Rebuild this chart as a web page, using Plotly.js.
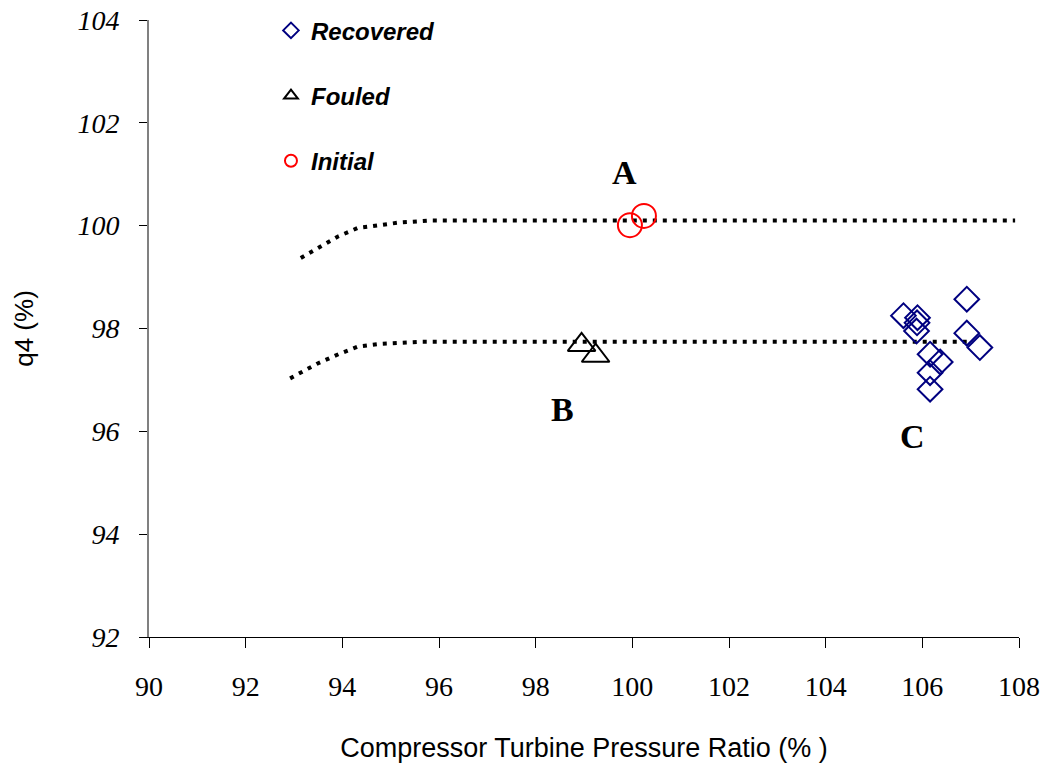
<!DOCTYPE html>
<html>
<head>
<meta charset="utf-8">
<script src="https://cdn.plot.ly/plotly-3.0.1.min.js"></script>
<style>html,body{margin:0;padding:0;background:#fff;}#chart{width:1053px;height:771px;}</style>
</head>
<body>
<div id="chart"></div>
<script>
// Model curves (dotted)
const upperCurveX = [93.14, 93.54, 93.91, 94.32, 94.76, 95.17, 95.83, 107.92];
const upperCurveY = [99.37, 99.59, 99.79, 99.955, 100.01, 100.06, 100.10, 100.10];
const lowerCurveX = [92.92, 93.12, 93.49, 93.92, 94.33, 94.76, 95.61, 107.05];
const lowerCurveY = [97.03, 97.13, 97.32, 97.50, 97.65, 97.70, 97.74, 97.74];

// Measured points
const recoveredX = [105.61, 105.90, 105.89, 105.88, 106.16, 106.37, 106.16, 106.16, 106.92, 106.92, 107.19];
const recoveredY = [98.25, 98.21, 98.11, 97.95, 97.50, 97.35, 97.14, 96.82, 98.57, 97.91, 97.63];
const fouledX = [98.95, 99.24];
const fouledY = [97.68, 97.47];
const initialX = [99.95, 100.24];
const initialY = [100.01, 100.19];

const seriesNames = ["Recovered", "Fouled", "Initial"];
const pointLabels = ["A", "B", "C"];
const labelX = [99.83, 98.55, 105.79];
const labelY = [101.04, 96.42, 95.89];

const xTicks = [90, 92, 94, 96, 98, 100, 102, 104, 106, 108];
const yTicks = [92, 94, 96, 98, 100, 102, 104];

const serif = "Liberation Serif";
const sans = "Liberation Sans";
const dotLine = {color: "#000000", width: 4, dash: "4px,6px"};

const data = [
  {x: upperCurveX, y: upperCurveY, mode: "lines", line: dotLine, showlegend: false, hoverinfo: "skip"},
  {x: lowerCurveX, y: lowerCurveY, mode: "lines", line: dotLine, showlegend: false, hoverinfo: "skip"},
  {x: recoveredX, y: recoveredY, mode: "markers", name: seriesNames[0], legendgroup: "g1",
   marker: {symbol: "diamond-open", size: 19, color: "#000080", line: {width: 2, color: "#000080"}}},
  {x: fouledX, y: fouledY, mode: "markers", name: seriesNames[1], legendgroup: "g2",
   marker: {symbol: "triangle-up-open", size: 24, color: "#000000", line: {width: 2, color: "#000000"}}},
  {x: initialX, y: initialY, mode: "markers", name: seriesNames[2], legendgroup: "g3",
   marker: {symbol: "circle-open", size: 24, color: "#ff0000", line: {width: 2, color: "#ff0000"}}}
];

const annotations = pointLabels.map((t, i) => ({
  x: labelX[i], y: labelY[i], xref: "x", yref: "y", text: t, showarrow: false,
  font: {family: serif, size: 34, weight: "bold", color: "#000"}
}));

const layout = {
  width: 1053, height: 771,
  margin: {l: 149, r: 34, t: 20, b: 134, autoexpand: false},
  paper_bgcolor: "#ffffff", plot_bgcolor: "#ffffff",
  showlegend: true,
  legend: {
    x: 0.1402, xanchor: "left", y: 1.019, yanchor: "top",
    bgcolor: "rgba(0,0,0,0)", borderwidth: 0,
    traceorder: "grouped", tracegroupgap: 31, itemsizing: "constant",
    font: {family: sans, size: 24, weight: "bold", style: "italic", color: "#000"}
  },
  xaxis: {
    range: [90, 108], tickvals: xTicks, ticktext: xTicks.map(String),
    showgrid: false, zeroline: false,
    showline: true, linecolor: "#000000", linewidth: 1,
    ticks: "outside", ticklen: 10, tickcolor: "#000000", tickwidth: 1,
    ticklabelstandoff: 14,
    tickfont: {family: serif, size: 28, color: "#000"},
    title: {text: "Compressor Turbine Pressure Ratio (% )", standoff: 37,
      font: {family: sans, size: 27, color: "#000"}}
  },
  yaxis: {
    range: [92, 104], tickvals: yTicks, ticktext: yTicks.map(String),
    showgrid: false, zeroline: false,
    showline: true, linecolor: "#808080", linewidth: 2,
    ticks: "outside", ticklen: 8, tickcolor: "#000000", tickwidth: 1,
    ticklabelstandoff: 14,
    tickfont: {family: serif, size: 28, style: "italic", color: "#000"},
    title: {text: "q4 (%)", standoff: 36,
      font: {family: sans, size: 26, color: "#000"}}
  },
  annotations: annotations
};

Plotly.newPlot("chart", data, layout, {displayModeBar: false, staticPlot: true});
</script>
</body>
</html>
